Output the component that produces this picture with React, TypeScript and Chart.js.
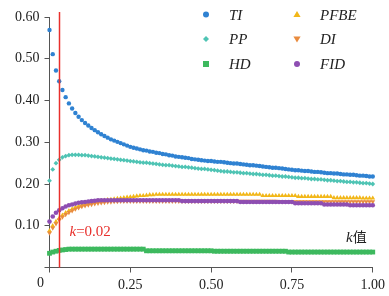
import React, { useEffect, useRef } from 'react';
import { Chart, registerables } from 'chart.js';

Chart.register(...registerables);

// k values (x axis)
const K = [
  0, 0.01, 0.02, 0.03, 0.04, 0.05, 0.06, 0.07, 0.08, 0.09,
  0.1, 0.11, 0.12, 0.13, 0.14, 0.15, 0.16, 0.17, 0.18, 0.19,
  0.2, 0.21, 0.22, 0.23, 0.24, 0.25, 0.26, 0.27, 0.28, 0.29,
  0.3, 0.31, 0.32, 0.33, 0.34, 0.35, 0.36, 0.37, 0.38, 0.39,
  0.4, 0.41, 0.42, 0.43, 0.44, 0.45, 0.46, 0.47, 0.48, 0.49,
  0.5, 0.51, 0.52, 0.53, 0.54, 0.55, 0.56, 0.57, 0.58, 0.59,
  0.6, 0.61, 0.62, 0.63, 0.64, 0.65, 0.66, 0.67, 0.68, 0.69,
  0.7, 0.71, 0.72, 0.73, 0.74, 0.75, 0.76, 0.77, 0.78, 0.79,
  0.8, 0.81, 0.82, 0.83, 0.84, 0.85, 0.86, 0.87, 0.88, 0.89,
  0.9, 0.91, 0.92, 0.93, 0.94, 0.95, 0.96, 0.97, 0.98, 0.99,
  1.0,
];

const TI = [
  0.569, 0.511, 0.472, 0.446, 0.425, 0.408, 0.393, 0.381, 0.370, 0.361,
  0.353, 0.346, 0.340, 0.334, 0.329, 0.324, 0.319, 0.315, 0.311, 0.307,
  0.304, 0.301, 0.298, 0.295, 0.292, 0.289, 0.287, 0.285, 0.283, 0.281,
  0.280, 0.278, 0.277, 0.275, 0.274, 0.272, 0.271, 0.269, 0.268, 0.266,
  0.265, 0.264, 0.263, 0.262, 0.260, 0.259, 0.258, 0.257, 0.256, 0.255,
  0.255, 0.254, 0.253, 0.253, 0.252, 0.251, 0.250, 0.249, 0.249, 0.248,
  0.247, 0.246, 0.245, 0.245, 0.244, 0.243, 0.242, 0.241, 0.240, 0.239,
  0.239, 0.238, 0.237, 0.236, 0.235, 0.234, 0.233, 0.233, 0.232, 0.231,
  0.231, 0.230, 0.229, 0.229, 0.228, 0.227, 0.226, 0.226, 0.225, 0.225,
  0.224, 0.223, 0.223, 0.222, 0.222, 0.221, 0.220, 0.220, 0.219, 0.218,
  0.218,
];

const PP = [
  0.208, 0.235, 0.250, 0.258, 0.264, 0.267, 0.269, 0.270, 0.270, 0.270,
  0.269, 0.269, 0.268, 0.267, 0.266, 0.265, 0.264, 0.263, 0.262, 0.261,
  0.260, 0.259, 0.258, 0.257, 0.256, 0.255, 0.254, 0.253, 0.252, 0.251,
  0.251, 0.250, 0.249, 0.248, 0.247, 0.246, 0.245, 0.245, 0.244, 0.243,
  0.242, 0.241, 0.241, 0.240, 0.239, 0.238, 0.237, 0.236, 0.236, 0.235,
  0.234, 0.233, 0.232, 0.231, 0.230, 0.230, 0.229, 0.228, 0.228, 0.227,
  0.226, 0.226, 0.225, 0.224, 0.224, 0.223, 0.222, 0.222, 0.221, 0.220,
  0.220, 0.219, 0.218, 0.218, 0.217, 0.216, 0.215, 0.215, 0.214, 0.214,
  0.213, 0.212, 0.212, 0.211, 0.211, 0.210, 0.209, 0.209, 0.208, 0.207,
  0.207, 0.206, 0.205, 0.205, 0.204, 0.204, 0.203, 0.202, 0.202, 0.201,
  0.200,
];

const HD = [
  0.034, 0.037, 0.039, 0.041, 0.042, 0.043, 0.044, 0.044, 0.044, 0.044,
  0.044, 0.044, 0.044, 0.044, 0.044, 0.044, 0.044, 0.044, 0.044, 0.044,
  0.044, 0.044, 0.044, 0.044, 0.044, 0.044, 0.044, 0.044, 0.044, 0.044,
  0.040, 0.040, 0.040, 0.040, 0.040, 0.040, 0.040, 0.040, 0.040, 0.040,
  0.040, 0.040, 0.040, 0.040, 0.040, 0.040, 0.040, 0.040, 0.040, 0.040,
  0.040, 0.039, 0.039, 0.039, 0.039, 0.039, 0.039, 0.039, 0.039, 0.039,
  0.039, 0.039, 0.039, 0.039, 0.039, 0.039, 0.039, 0.039, 0.039, 0.039,
  0.039, 0.039, 0.039, 0.039, 0.037, 0.037, 0.037, 0.037, 0.037, 0.037,
  0.037, 0.037, 0.037, 0.037, 0.037, 0.037, 0.037, 0.037, 0.037, 0.037,
  0.037, 0.037, 0.037, 0.037, 0.037, 0.037, 0.037, 0.037, 0.037, 0.037,
  0.037,
];

const PFBE = [
  0.088, 0.100, 0.110, 0.118, 0.125, 0.131, 0.136, 0.140, 0.144, 0.147,
  0.150, 0.152, 0.154, 0.156, 0.157, 0.159, 0.160, 0.161, 0.162, 0.163,
  0.164, 0.165, 0.166, 0.167, 0.168, 0.169, 0.170, 0.171, 0.172, 0.172,
  0.173, 0.174, 0.174, 0.175, 0.175, 0.175, 0.175, 0.175, 0.175, 0.175,
  0.175, 0.175, 0.175, 0.175, 0.175, 0.175, 0.175, 0.175, 0.175, 0.175,
  0.175, 0.175, 0.175, 0.175, 0.175, 0.175, 0.175, 0.175, 0.175, 0.175,
  0.175, 0.175, 0.175, 0.175, 0.175, 0.175, 0.172, 0.172, 0.172, 0.172,
  0.172, 0.172, 0.172, 0.172, 0.172, 0.172, 0.172, 0.170, 0.170, 0.170,
  0.170, 0.170, 0.170, 0.170, 0.170, 0.170, 0.170, 0.170, 0.167, 0.167,
  0.167, 0.167, 0.167, 0.167, 0.167, 0.167, 0.167, 0.166, 0.166, 0.166,
  0.166,
];

const DI = [
  0.083, 0.095, 0.105, 0.114, 0.121, 0.127, 0.132, 0.136, 0.140, 0.143,
  0.146, 0.148, 0.150, 0.151, 0.153, 0.154, 0.155, 0.156, 0.157, 0.157,
  0.158, 0.158, 0.159, 0.159, 0.159, 0.159, 0.159, 0.159, 0.159, 0.159,
  0.159, 0.159, 0.159, 0.159, 0.159, 0.159, 0.159, 0.159, 0.159, 0.159,
  0.159, 0.159, 0.159, 0.159, 0.159, 0.159, 0.159, 0.159, 0.159, 0.159,
  0.159, 0.159, 0.159, 0.159, 0.159, 0.159, 0.159, 0.159, 0.159, 0.159,
  0.159, 0.159, 0.159, 0.159, 0.159, 0.159, 0.159, 0.159, 0.159, 0.159,
  0.159, 0.158, 0.158, 0.158, 0.158, 0.158, 0.158, 0.158, 0.158, 0.158,
  0.158, 0.158, 0.158, 0.158, 0.158, 0.158, 0.158, 0.158, 0.158, 0.158,
  0.158, 0.158, 0.158, 0.158, 0.158, 0.158, 0.158, 0.158, 0.158, 0.158,
  0.158,
];

const FID = [
  0.110, 0.122, 0.131, 0.137, 0.142, 0.146, 0.149, 0.151, 0.153, 0.155,
  0.156, 0.157, 0.158, 0.159, 0.160, 0.161, 0.161, 0.161, 0.161, 0.161,
  0.161, 0.161, 0.161, 0.161, 0.161, 0.161, 0.161, 0.161, 0.161, 0.161,
  0.161, 0.161, 0.161, 0.161, 0.161, 0.161, 0.161, 0.161, 0.161, 0.161,
  0.161, 0.159, 0.159, 0.159, 0.159, 0.159, 0.159, 0.159, 0.159, 0.159,
  0.159, 0.159, 0.159, 0.159, 0.159, 0.159, 0.159, 0.159, 0.159, 0.157,
  0.157, 0.157, 0.157, 0.157, 0.157, 0.157, 0.157, 0.157, 0.157, 0.157,
  0.157, 0.157, 0.157, 0.157, 0.157, 0.157, 0.154, 0.154, 0.154, 0.154,
  0.154, 0.154, 0.154, 0.154, 0.154, 0.151, 0.151, 0.151, 0.151, 0.151,
  0.151, 0.151, 0.151, 0.149, 0.149, 0.149, 0.149, 0.149, 0.149, 0.149,
  0.149,
];

const SERIES_NAMES = ['TI', 'PP', 'HD', 'PFBE', 'DI', 'FID'];
const SERIES_COLORS = ['#2F82D2', '#4FC4B4', '#3DB95E', '#F2B719', '#E98B3E', '#8E4EB2'];

const KLINE = 0.028; // position of the red reference line
const KLINE_LABEL = '=0.02';
const Y_TICK_MIN = 0;
const Y_TICK_MAX = 0.6;
const Y_STEP = 0.1;
const X_STEP = 0.25;

const SERIF = "'Liberation Serif', 'Times New Roman', 'Noto Sans CJK SC', serif";

function drawMarker(ctx: CanvasRenderingContext2D, style: string, x: number, y: number, r: number, color: string) {
  ctx.fillStyle = color;
  ctx.beginPath();
  if (style === 'circle') {
    ctx.arc(x, y, r, 0, Math.PI * 2);
  } else if (style === 'rectRot') {
    ctx.moveTo(x, y - r);
    ctx.lineTo(x + r, y);
    ctx.lineTo(x, y + r);
    ctx.lineTo(x - r, y);
    ctx.closePath();
  } else if (style === 'rect') {
    ctx.rect(x - r, y - r, 2 * r, 2 * r);
  } else if (style === 'triangle') {
    ctx.moveTo(x, y - r);
    ctx.lineTo(x + r, y + r * 0.7);
    ctx.lineTo(x - r, y + r * 0.7);
    ctx.closePath();
  } else if (style === 'triangleDown') {
    ctx.moveTo(x, y + r);
    ctx.lineTo(x + r, y - r * 0.7);
    ctx.lineTo(x - r, y - r * 0.7);
    ctx.closePath();
  }
  ctx.fill();
}

const LEGEND_STYLES = ['circle', 'rectRot', 'rect', 'triangle', 'triangleDown', 'circle'];
const LEGEND_SIZES = [3, 3, 3, 3.6, 3.6, 3];

const overlayPlugin = {
  id: 'overlay',
  afterDatasetsDraw(chart: any) {
    const { ctx, chartArea } = chart;
    const xs = chart.scales.x;
    const ys = chart.scales.y;
    ctx.save();
    // red reference line
    const lx = Math.round(xs.getPixelForValue(KLINE)) + 0.5;
    ctx.strokeStyle = '#E8302C';
    ctx.lineWidth = 1.5;
    ctx.beginPath();
    ctx.moveTo(lx, chartArea.top - 5);
    ctx.lineTo(lx, chartArea.bottom);
    ctx.stroke();

    // k=0.02 label
    ctx.fillStyle = '#E8302C';
    ctx.textBaseline = 'middle';
    ctx.textAlign = 'left';
    const ly = ys.getPixelForValue(0.085);
    ctx.font = `italic 15px ${SERIF}`;
    const kx = lx + 10;
    ctx.fillText('k', kx, ly);
    const kw = ctx.measureText('k').width;
    ctx.font = `15px ${SERIF}`;
    ctx.fillText(KLINE_LABEL, kx + kw, ly);

    // axis title "k值"
    ctx.fillStyle = '#222';
    const ty = ys.getPixelForValue(0.071);
    ctx.font = `14px ${SERIF}`;
    const zw = ctx.measureText('值').width;
    ctx.font = `italic 15px ${SERIF}`;
    const kw2 = ctx.measureText('k').width;
    const rx = xs.getPixelForValue(1) - 6;
    ctx.fillText('k', rx - zw - kw2, ty);
    ctx.font = `14px ${SERIF}`;
    ctx.fillText('值', rx - zw, ty);

    // origin label "0"
    ctx.font = `14px ${SERIF}`;
    ctx.textAlign = 'center';
    ctx.fillText('0', xs.getPixelForValue(0) - 9, chartArea.bottom + 16);

    // legend
    const colMarkerX = [206, 297];
    const colTextX = [229, 320];
    const rowY = [15.5, 40, 65];
    ctx.textAlign = 'left';
    ctx.font = `italic 15px ${SERIF}`;
    SERIES_NAMES.forEach((name, i) => {
      const col = Math.floor(i / 3);
      const row = i % 3;
      drawMarker(ctx, LEGEND_STYLES[i], colMarkerX[col], rowY[row] - 1, LEGEND_SIZES[i], SERIES_COLORS[i]);
      ctx.fillStyle = '#222';
      ctx.fillText(name, colTextX[col], rowY[row] + 0.5);
    });
    ctx.restore();
  },
};

function toPoints(vals: number[]) {
  return K.map((k, i) => ({ x: k, y: vals[i] }));
}

export default function App() {
  const ref = useRef<HTMLCanvasElement | null>(null);

  useEffect(() => {
    if (!ref.current) return;
    const seriesVals = [TI, PP, HD, PFBE, DI, FID];
    const pointStyles = ['circle', 'rectRot', 'rect', 'triangle', 'triangle', 'circle'];
    const radii = [2.2, 2.4, 3.4, 2.8, 2.8, 2.3];
    const rotations = [0, 0, 0, 0, 180, 0];
    const chart = new Chart(ref.current, {
      type: 'scatter',
      data: {
        datasets: seriesVals.map((vals, i) => ({
          label: SERIES_NAMES[i],
          data: toPoints(vals),
          pointStyle: pointStyles[i] as any,
          pointRadius: radii[i],
          pointRotation: rotations[i],
          pointBorderWidth: 0,
          borderWidth: 0,
          backgroundColor: SERIES_COLORS[i],
          borderColor: SERIES_COLORS[i],
          showLine: false,
          clip: false as any,
          order: 5 - i,
        })),
      },
      options: {
        animation: false,
        responsive: false,
        events: [],
        layout: { padding: { top: 17, right: 13.3, left: 0, bottom: 0 } },
        plugins: {
          legend: { display: false },
          tooltip: { enabled: false },
        },
        scales: {
          x: {
            type: 'linear',
            min: 0,
            max: 1,
            afterFit: (s: any) => { s.height = 28.5; },
            ticks: {
              stepSize: X_STEP,
              padding: 4,
              color: '#222',
              font: { family: SERIF, size: 14 },
              maxRotation: 0,
              callback: (v: any) => (Number(v) === 0 ? '' : Number(v).toFixed(2)),
            },
            grid: { drawOnChartArea: false, drawTicks: true, tickLength: 5, color: '#555' },
            border: { display: true, color: '#555', width: 1 },
          },
          y: {
            type: 'linear',
            min: Y_TICK_MIN,
            max: Y_TICK_MAX,
            afterFit: (s: any) => { s.width = 49.5; },
            ticks: {
              stepSize: Y_STEP,
              padding: 5,
              color: '#222',
              font: { family: SERIF, size: 14 },
              callback: (v: any) => (Number(v) === 0 ? '' : Number(v).toFixed(2)),
            },
            grid: { drawOnChartArea: false, drawTicks: true, tickLength: 5, color: '#555' },
            border: { display: true, color: '#555', width: 1 },
          },
        },
      },
      plugins: [overlayPlugin],
    } as any);
    return () => chart.destroy();
  }, []);

  return (
    <div style={{ position: 'fixed', left: 0, top: 0, width: 389, height: 296, background: '#fff' }}>
      <canvas ref={ref} width={389} height={296} style={{ display: 'block', width: 389, height: 296 }} />
    </div>
  );
}
